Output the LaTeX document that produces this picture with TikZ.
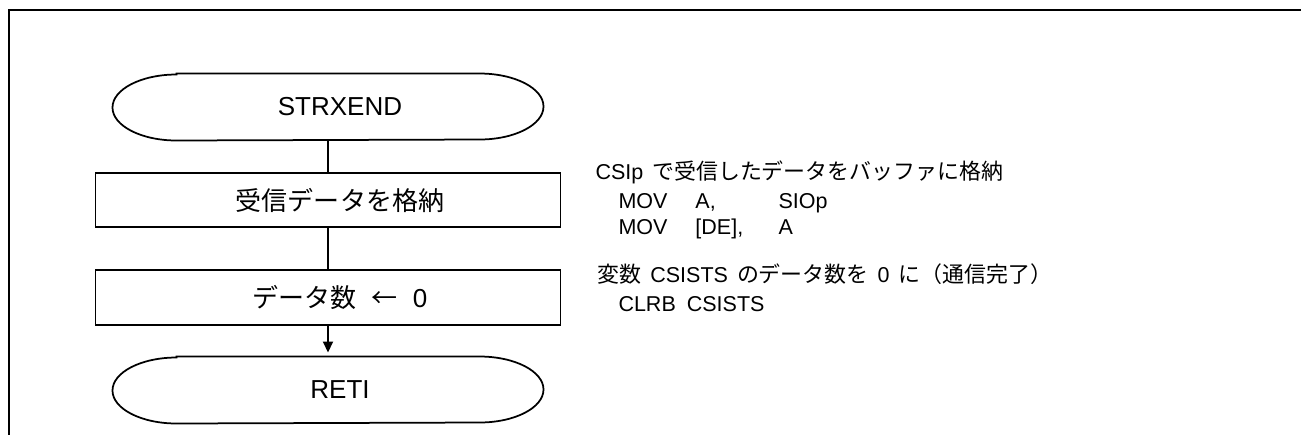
\documentclass[tikz,border=0pt]{standalone}
\usepackage{fontspec}
\setmainfont{Liberation Sans}
\newfontfamily\jpfont{Noto Sans CJK JP}
\newfontfamily\jpcmt{Noto Sans CJK JP}[Scale=1.02]
\usetikzlibrary{arrows.meta}
\newcommand\opcol[1]{\makebox[30.8pt][l]{#1}}
\newcommand\argcol[1]{\makebox[33.2pt][l]{#1}}
\newcommand\jsp{\hspace{3.6pt}}

\begin{document}
\begin{tikzpicture}[x=0.4pt, y=-0.4pt,
  termbox/.style={minimum width=172pt, minimum height=26.4pt, inner sep=0pt,
    font=\fontsize{10.4}{12}\selectfont, execute at begin node={\hspace*{9.6pt}}},
  procbox/.style={draw, line width=0.7pt, minimum width=186pt, minimum height=21.8pt, inner sep=0pt,
    font=\fontsize{10.4}{12}\selectfont, execute at begin node={\hspace*{9.6pt}}},
  cmt/.style={anchor=base west, inner sep=0pt, font=\fontsize{8.6}{10}\selectfont},
  flow/.style={line width=0.8pt}]
\useasboundingbox (0,0) rectangle (1301,435);
% frame, cut at right and bottom
\draw[line width=1pt] (1301,10) -| (9,435);
% flow chart
\node[termbox] at (328,107) (strxend) {STRXEND};
\node[procbox] at (328,200) (store) {\jpfont 受信データを格納};
\node[procbox] at (328,297.5) (clear) {{\jpfont データ数}\hspace{6.4pt}\makebox[9.6pt]{\jpfont ←}\hspace{6.4pt}0};
\node[termbox] at (328,390) (reti) {RETI};
\foreach \t in {strxend, reti}
  \draw[line width=0.7pt] ([xshift=25.6pt]\t.north west) -- ([xshift=-25.6pt]\t.north east)
    arc[start angle=90, end angle=-90, x radius=25.6pt, y radius=13.2pt]
    -- ([xshift=25.6pt]\t.south west)
    arc[start angle=270, end angle=90, x radius=25.6pt, y radius=13.2pt] -- cycle;
\draw[flow] (strxend) -- (store);
\draw[flow] (store) -- (clear);
\draw[flow, -{Triangle[width=4pt, length=4.4pt]}, shorten >=1.6pt] (clear) -- (reti);
% comments
\node[cmt] at (595,179) (cmtstore) {CSIp\jsp{\jpcmt で受信したデータをバッファに格納}};
\node[cmt] at (618,208) (movsio) {\opcol{MOV}\argcol{A,}SIOp};
\node[cmt] at (618,234) (movde) {\opcol{MOV}\argcol{[DE],}A};
\node[cmt] at (597,282) (cmtclear) {{\jpcmt 変数}\jsp CSISTS\jsp{\jpcmt のデータ数を}\jsp 0\jsp{\jpcmt に（通信完了）}};
\node[cmt] at (618,311) (clrb) {CLRB\hspace{4.4pt}CSISTS};
\end{tikzpicture}
\end{document}
